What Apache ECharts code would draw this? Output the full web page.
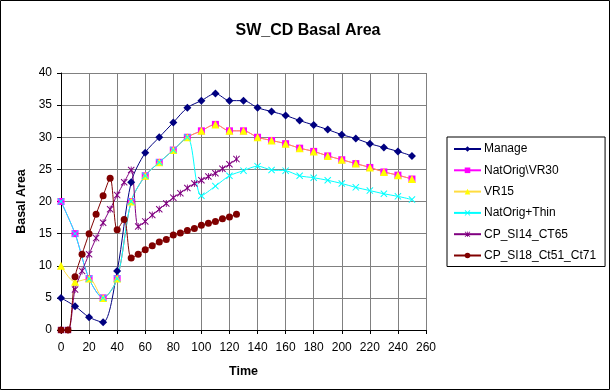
<!DOCTYPE html>
<html><head><meta charset="utf-8">
<script src="https://cdn.jsdelivr.net/npm/echarts@6/dist/echarts.min.js"></script>
<style>html,body{margin:0;padding:0;background:#fff}#c{width:613px;height:392px}</style>
</head><body><div id="c"></div>
<script>
const timeA = [0,10,20,30,40,50,60,70,80,90,100,110,120,130,140,150,160,170,180,190,200,210,220,230,240,250];
const timeB = [0,5,10,15,20,25,30,35,40,45,50,55,60,65,70,75,80,85,90,95,100,105,110,115,120,125];
const manage = [5,3.7,2,1.2,9.2,23,27.6,30,32.3,34.6,35.7,36.8,35.7,35.7,34.6,34,33.4,32.6,31.9,31.2,30.4,29.8,29,28.4,27.8,27.1];
const natOrigVR30 = [20,15,8,5,8,20,24,26.1,28,30,31,32,31,31,30,29.5,29,28.3,27.8,27.1,26.5,25.9,25.3,24.6,24.1,23.5];
const vr15 = [10,7.5,8,5,8,20,24,26.1,28,30,31,32,31,31,30,29.5,29,28.3,27.8,27.1,26.5,25.9,25.3,24.6,24.1,23.5];
const natOrigThin = [20,15,8,5,8,20,24,26.1,28,30,20.9,22.4,24,24.8,25.5,24.9,24.8,24,23.7,23.3,22.8,22.2,21.7,21.2,20.8,20.3];
const cpSI14 = [0,0,6.3,9.2,11.8,14.3,16.7,18.8,21,23,24.9,16.1,16.9,17.9,18.8,19.7,20.6,21.3,22.1,22.8,23.3,23.9,24.4,25.1,25.8,26.6];
const cpSI18 = [0,0,8.3,11.8,15,18,20.9,23.6,15.6,17.2,11.2,11.8,12.5,13.1,13.7,14.1,14.8,15.1,15.5,15.8,16.3,16.6,16.9,17.3,17.6,18];
const seriesNames = ['Manage','NatOrig\\VR30','VR15','NatOrig+Thin','CP_SI14_CT65','CP_SI18_Ct51_Ct71'];

const FONT = '"Liberation Sans", Arial, sans-serif';
const xSym = 'path://M0,1L1,0L5,4L9,0L10,1L6,5L10,9L9,10L5,6L1,10L0,9L4,5Z';
const astSym = 'path://M0,1L1,0L5,4L9,0L10,1L6,5L10,9L9,10L5,6L1,10L0,9L4,5ZM4.4,0L5.6,0L5.6,10L4.4,10Z';

function pairs(xs, ys){ return xs.map((x,i)=>[x, ys[i]]); }
function mk(name, xs, ys, color, symbol, size, extra){
  return Object.assign({
    name, type:'line', data: pairs(xs, ys), smooth: 0.3, symbol, symbolSize: size,
    itemStyle:{color}, lineStyle:{color, width:1}, emphasis:{disabled:true}, animation:false
  }, extra||{});
}

const chart = echarts.init(document.getElementById('c'), null, {renderer:'canvas'});
chart.setOption({
  animation:false,
  backgroundColor:'#fff',
  title:{text:'SW_CD Basal Area', left:303, textAlign:'center', top:18,
    textStyle:{fontFamily:FONT, fontSize:16, fontWeight:'bold', color:'#000'}},
  graphic:[{type:'rect', shape:{x:0.5,y:0.5,width:609,height:389}, style:{fill:null, stroke:'#000', lineWidth:1}, silent:true}],
  legend:{
    orient:'vertical', left:447, top:137,
    padding:[6,9,5,6], itemGap:9.3, itemWidth:27, itemHeight:7,
    borderColor:'#000', borderWidth:1,
    textStyle:{fontFamily:FONT, fontSize:12, color:'#000', padding:[0,0,0,-2]},
    data: seriesNames
  },
  grid:{left:61, top:73, right:187, bottom:62, containLabel:false},
  xAxis:{type:'value', min:0, max:260, interval:20, name:'Time', nameLocation:'middle', nameGap:35.5,
    nameTextStyle:{fontFamily:FONT, fontSize:12.5, fontWeight:'bold', color:'#000'},
    axisLine:{show:true, onZero:false, lineStyle:{color:'#000', width:1}},
    axisTick:{show:true, length:4, lineStyle:{color:'#000'}},
    axisLabel:{fontFamily:FONT, fontSize:12, color:'#000', margin:12},
    splitLine:{show:true, lineStyle:{color:'#808080', width:1}}},
  yAxis:{type:'value', min:0, max:40, interval:5, name:'Basal Area', nameLocation:'middle', nameGap:32, nameRotate:90,
    nameTextStyle:{fontFamily:FONT, fontSize:12.5, fontWeight:'bold', color:'#000'},
    axisLine:{show:true, onZero:false, lineStyle:{color:'#000', width:1}},
    axisTick:{show:true, length:4, lineStyle:{color:'#000'}},
    axisLabel:{fontFamily:FONT, fontSize:12, color:'#000', margin:9},
    splitLine:{show:true, lineStyle:{color:'#808080', width:1}}},
  series:[
    mk(seriesNames[0], timeA, manage, '#000080', 'diamond', 8),
    mk(seriesNames[1], timeA, natOrigVR30, '#FF00FF', 'rect', 7),
    mk(seriesNames[2], timeA, vr15, '#FFFF00', 'triangle', 8, {lineStyle:{color:'#FFD000', width:1, opacity:0.75}}),
    mk(seriesNames[3], timeA, natOrigThin, '#00FFFF', xSym, 7),
    mk(seriesNames[4], timeB, cpSI14, '#800080', astSym, 7),
    mk(seriesNames[5], timeB, cpSI18, '#800000', 'circle', 7)
  ]
});
</script></body></html>
